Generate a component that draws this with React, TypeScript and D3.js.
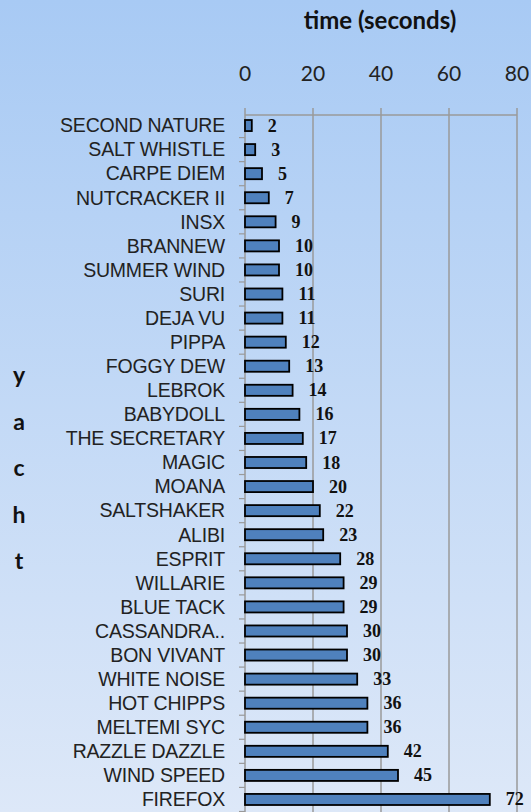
import React from "react";
import * as d3 from "d3";

const yachts = [
  "SECOND NATURE", "SALT WHISTLE", "CARPE DIEM", "NUTCRACKER II", "INSX", "BRANNEW",
  "SUMMER WIND", "SURI", "DEJA VU", "PIPPA", "FOGGY DEW", "LEBROK", "BABYDOLL",
  "THE SECRETARY", "MAGIC", "MOANA", "SALTSHAKER", "ALIBI", "ESPRIT", "WILLARIE",
  "BLUE TACK", "CASSANDRA..", "BON VIVANT", "WHITE NOISE", "HOT CHIPPS", "MELTEMI SYC",
  "RAZZLE DAZZLE", "WIND SPEED", "FIREFOX",
];
const times = [2, 3, 5, 7, 9, 10, 10, 11, 11, 12, 13, 14, 16, 17, 18, 20, 22, 23, 28, 29, 29, 30, 30, 33, 36, 36, 42, 45, 72];
const xTicks = [0, 20, 40, 60, 80];
const axisTitle = "time (seconds)";
const yTitleLetters = ["y", "a", "c", "h", "t"];

const W = 531;
const H = 812;

export default function App() {
  const x = d3.scaleLinear().domain([0, 80]).range([245, 517]);
  const y = d3.scaleBand<string>().domain(yachts).range([113.5, 811.5]).paddingInner(0.54).paddingOuter(0.27);
  const band = d3.scaleBand<string>().domain(yachts).range([113.5, 811.5]);
  const axisY = 115;
  const gray = "#9a9a9a";
  return (
    <svg width={W} height={H} style={{ position: "fixed", left: 0, top: 0 }}>
      <defs>
        <linearGradient id="bg" x1="0" y1="0" x2="0" y2="1">
          <stop offset="0" stopColor="#a8caf4" />
          <stop offset="1" stopColor="#dde8f8" />
        </linearGradient>
      </defs>
      <rect x={0} y={0} width={W} height={H} fill="url(#bg)" />
      <text x={380} y={29} textAnchor="middle" fontFamily="Lato" fontWeight="bold" fontSize={24} fill="#111">
        {axisTitle}
      </text>
      {xTicks.map((t) => (
        <g key={t}>
          <text x={x(t)} y={81} textAnchor="middle" fontFamily="Lato" fontSize={21} fill="#222">
            {t}
          </text>
          <line x1={x(t)} x2={x(t)} y1={108} y2={H} stroke={gray} strokeWidth={1.5} />
        </g>
      ))}
      <line x1={x(0)} x2={x(80)} y1={axisY} y2={axisY} stroke={gray} strokeWidth={1.5} />
      {yachts.map((_, i) => (
        <line key={i} x1={239} x2={245} y1={113.5 + band.step() * (i + 1)} y2={113.5 + band.step() * (i + 1)} stroke={gray} strokeWidth={1.2} />
      ))}
      {yTitleLetters.map((l, i) => (
        <text key={l} x={19} y={383 + i * 46.5} textAnchor="middle" fontFamily="Lato" fontWeight="bold" fontSize={23} fill="#111">
          {l}
        </text>
      ))}
      {yachts.map((name, i) => {
        const cy = (band(name) as number) + band.bandwidth() / 2;
        const v = times[i];
        return (
          <g key={name}>
            <text x={225} y={cy + 6.8} textAnchor="end" fontFamily="Liberation Sans" fontSize={19.5} fill="#222" letterSpacing={-0.2}>
              {name}
            </text>
            <rect x={x(0)} y={y(name)} width={x(v) - x(0)} height={y.bandwidth()} fill="#4f81bd" stroke="#000" strokeWidth={1.8} />
            <text x={x(v) + 16} y={cy + 6} fontFamily="Liberation Serif" fontWeight="bold" fontSize={18} fill="#111">
              {v}
            </text>
          </g>
        );
      })}
    </svg>
  );
}
